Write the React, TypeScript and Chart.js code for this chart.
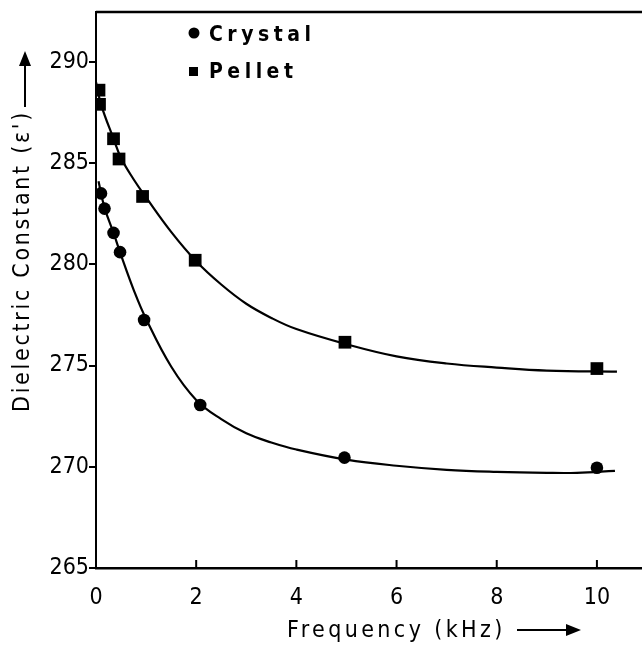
import React, { useEffect, useRef } from "react";
import { Chart, registerables } from "chart.js";

Chart.register(...registerables);

// Measured markers
const crystalFreq = [0.1, 0.17, 0.35, 0.48, 0.96, 2.08, 4.96, 10.0];
const crystalEps = [283.5, 282.75, 281.55, 280.6, 277.25, 273.05, 270.45, 269.95];
const pelletFreq = [0.06, 0.07, 0.35, 0.46, 0.93, 1.98, 4.97, 10.0];
const pelletEps = [288.6, 287.9, 286.2, 285.2, 283.35, 280.2, 276.15, 274.85];

// Smooth guide curves
const crystalCurveFreq = [0.05, 0.17, 0.35, 0.5, 0.75, 1.0, 1.5, 2.0, 2.5, 3.0, 3.5, 4.0, 5.0, 6.0, 7.0, 8.0, 9.0, 9.6, 10.36];
const crystalCurveEps = [284.1, 282.8, 281.55, 280.45, 278.75, 277.3, 274.95, 273.3, 272.35, 271.65, 271.2, 270.85, 270.35, 270.05, 269.85, 269.75, 269.7, 269.7, 269.8];
const pelletCurveFreq = [0.0, 0.1, 0.35, 0.5, 0.75, 1.0, 1.5, 2.0, 2.5, 3.0, 3.5, 4.0, 5.0, 6.0, 7.0, 8.0, 9.0, 10.4];
const pelletCurveEps = [289.0, 287.9, 286.2, 285.25, 284.2, 283.3, 281.6, 280.15, 279.0, 278.05, 277.35, 276.8, 276.05, 275.45, 275.1, 274.9, 274.75, 274.7];

const xTickValues = [0, 2, 4, 6, 8, 10];
const yTickValues = [265, 270, 275, 280, 285, 290];

const FONT = "'DejaVu Sans Condensed', 'DejaVu Sans', sans-serif";
const INK = "#000";

const toXY = (xs: number[], ys: number[]) => xs.map((x, i) => ({ x, y: ys[i] }));

const decor = {
  id: "decor",
  afterDraw(chart: any) {
    const { ctx, chartArea: a, scales } = chart;
    ctx.save();
    ctx.strokeStyle = INK;
    ctx.fillStyle = INK;
    // top frame line
    ctx.lineWidth = 2.5;
    ctx.beginPath();
    ctx.moveTo(a.left, a.top);
    ctx.lineTo(a.right, a.top);
    ctx.stroke();
    // inward x ticks
    ctx.lineWidth = 2;
    ctx.beginPath();
    scales.x.ticks.forEach((t: any) => {
      const px = scales.x.getPixelForValue(t.value);
      ctx.moveTo(px, a.bottom);
      ctx.lineTo(px, a.bottom - 8);
    });
    ctx.stroke();

    // legend
    ctx.font = `bold 21px ${FONT}`;
    (ctx as any).letterSpacing = "4.5px";
    ctx.textBaseline = "middle";
    ctx.textAlign = "left";
    ctx.beginPath();
    ctx.arc(194, 33, 5.5, 0, Math.PI * 2);
    ctx.fill();
    ctx.fillText("Crystal", 209, 36);
    ctx.fillRect(189, 67, 9, 9);
    ctx.fillText("Pellet", 209, 73);

    // x axis title
    ctx.font = `23px ${FONT}`;
    (ctx as any).letterSpacing = "3.4px";
    ctx.textAlign = "left";
    ctx.fillText("Frequency (kHz)", 287, 631);
    ctx.lineWidth = 2;
    ctx.beginPath();
    ctx.moveTo(517, 630);
    ctx.lineTo(570, 630);
    ctx.stroke();
    ctx.beginPath();
    ctx.moveTo(581, 630);
    ctx.lineTo(566, 624);
    ctx.lineTo(566, 636);
    ctx.closePath();
    ctx.fill();

    // y axis title
    (ctx as any).letterSpacing = "2.7px";
    ctx.save();
    ctx.translate(23, 412);
    ctx.rotate(-Math.PI / 2);
    ctx.textAlign = "left";
    ctx.fillText("Dielectric Constant (ε')", 0, 0);
    ctx.restore();
    ctx.beginPath();
    ctx.moveTo(25, 107);
    ctx.lineTo(25, 62);
    ctx.stroke();
    ctx.beginPath();
    ctx.moveTo(25, 51);
    ctx.lineTo(19, 66);
    ctx.lineTo(31, 66);
    ctx.closePath();
    ctx.fill();
    ctx.restore();
  },
};

export default function App() {
  const ref = useRef<HTMLCanvasElement | null>(null);
  useEffect(() => {
    document.body.style.margin = "0";
    const canvas = ref.current!;
    const chart = new Chart(canvas, {
      type: "scatter",
      data: {
        datasets: [
          {
            label: "Crystal",
            data: toXY(crystalFreq, crystalEps),
            pointStyle: "circle",
            pointRadius: 6.3,
            backgroundColor: INK,
            borderColor: INK,
            borderWidth: 0,
            showLine: false,
          },
          {
            label: "Pellet",
            data: toXY(pelletFreq, pelletEps),
            pointStyle: "rect",
            pointRadius: 9,
            backgroundColor: INK,
            borderColor: INK,
            borderWidth: 0,
            showLine: false,
          },
          {
            label: "Crystal fit",
            data: toXY(crystalCurveFreq, crystalCurveEps),
            showLine: true,
            pointRadius: 0,
            borderColor: INK,
            borderWidth: 2.2,
            tension: 0.4,
          },
          {
            label: "Pellet fit",
            data: toXY(pelletCurveFreq, pelletCurveEps),
            showLine: true,
            pointRadius: 0,
            borderColor: INK,
            borderWidth: 2.2,
            tension: 0.4,
          },
        ],
      } as any,
      options: {
        animation: false,
        responsive: false,
        devicePixelRatio: 1,
        layout: { autoPadding: false, padding: { top: 12, right: 0, left: 0, bottom: 0 } },
        plugins: { legend: { display: false }, tooltip: { enabled: false } },
        scales: {
          x: {
            type: "linear",
            min: 0,
            max: 10.9,
            afterBuildTicks: (s: any) => {
              s.ticks = xTickValues.map((v) => ({ value: v }));
            },
            afterFit: (s: any) => {
              s.height = 79;
              s.paddingLeft = 0;
              s.paddingRight = 0;
            },
            grid: { drawOnChartArea: false, drawTicks: false },
            border: { display: true, color: INK, width: 2.5 },
            ticks: {
              color: INK,
              padding: 16,
              font: { family: FONT, size: 23 },
              maxRotation: 0,
            },
          },
          y: {
            type: "linear",
            min: 265,
            max: 292.46,
            afterBuildTicks: (s: any) => {
              s.ticks = yTickValues.map((v) => ({ value: v }));
            },
            afterFit: (s: any) => {
              s.width = 96;
              s.paddingTop = 0;
              s.paddingBottom = 0;
            },
            grid: {
              drawOnChartArea: false,
              drawTicks: true,
              tickLength: 7,
              color: INK,
              lineWidth: 2,
            },
            border: { display: true, color: INK, width: 2 },
            ticks: {
              color: INK,
              padding: 0,
              font: { family: FONT, size: 23 },
            },
          },
        },
      } as any,
      plugins: [decor],
    });
    return () => chart.destroy();
  }, []);
  return (
    <div style={{ width: 642, height: 647 }}>
      <canvas ref={ref} width={642} height={647} style={{ display: "block" }} />
    </div>
  );
}
